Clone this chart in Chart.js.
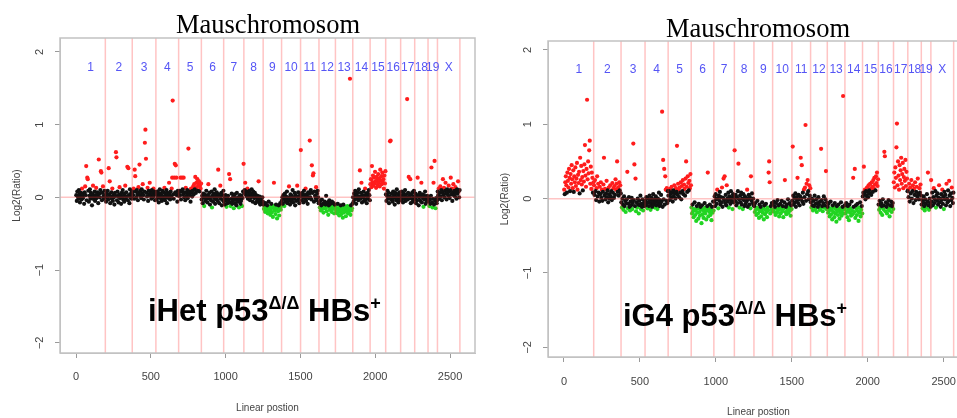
<!DOCTYPE html>
<html>
<head>
<meta charset="utf-8">
<script src="https://cdn.jsdelivr.net/npm/chart.js@4.4.1/dist/chart.umd.min.js"></script>
<style>
  html, body { margin: 0; padding: 0; background: #fff; }
  body { width: 957px; height: 418px; overflow: hidden; position: relative; }
  canvas { position: absolute; top: 0; }
  .ttl { position: absolute; width: 220px; text-align: center; font-family: "Liberation Serif", "Times New Roman", serif; font-size: 26.5px; line-height: 1; color: #000; white-space: nowrap; }
  .lbl { position: absolute; font-family: "Liberation Sans", Arial, sans-serif; font-weight: bold; font-size: 31px; line-height: 1; color: #000; white-space: nowrap; }
  .lbl span { font-size: 18px; position: relative; top: -12px; line-height: 0; }
</style>
</head>
<body>
<canvas id="left" width="478" height="418" style="left:0;width:478px;height:418px"></canvas>
<canvas id="right" width="490" height="418" style="left:488px;width:490px;height:418px"></canvas>
<div class="ttl" style="left:158px;top:11px">Mauschromosom</div>
<div class="ttl" style="left:648px;top:15px">Mauschromosom</div>
<div class="lbl" style="left:148px;top:295px">iHet p53<span>Δ/Δ</span> HBs<span>+</span></div>
<div class="lbl" style="left:623px;top:300px">iG4 p53<span>Δ/Δ</span> HBs<span>+</span></div>
<script>
// ---------------- data ----------------
const chromLabels = ['1','2','3','4','5','6','7','8','9','10','11','12','13','14','15','16','17','18','19','X'];
// chromosome end positions along the linear position axis
const chromEnds = [196,376,534,686,838,987,1122,1251,1374,1501,1624,1734,1850,1966,2070,2170,2264,2353,2416,2566];
const xTicks = [0,500,1000,1500,2000,2500];
const yTicks = [-2,-1,0,1,2];

// log2 ratios, in hundredths, one list per chromosome (left panel: iHet)
const iHetLog2 = [
  [3,-5,8,1,-2,10,4,-7,0,6,-3,12,2,-1,5,-9,7,15,3,43,-4,27,25,9,-6,2,11,-2,6,0,-11,4,16,1,-3,8,-5,3,13,-1,7,2,-8,52,5,0,10,36,34,-4,6,15,1,-2,9,3],
  [2,-6,5,0,9,-3,40,4,22,-8,1,7,-2,12,-5,3,0,-10,6,2,62,55,-4,8,1,-7,4,14,-1,3,-9,6,0,10,-3,2,-6,5,16,-2,7,1,42,-4,40,3,-8,11,0,5,-2,8],
  [7,3,12,-2,38,29,8,0,10,4,-4,14,6,45,2,9,-1,11,5,18,3,-3,8,75,93,53,6,1,13,-5,9,4,20,2,7,-2,10,5,0,12,3,8,-4,6],
  [4,-3,8,0,6,-7,2,11,-1,5,3,-5,9,1,-2,7,13,-4,4,0,10,-8,6,2,-1,20,5,-3,8,1,12,27,133,4,-2,27,46,7,44,27,3,-6,9,2],
  [5,9,2,27,-3,8,27,11,4,27,0,7,-4,13,6,2,10,-1,67,5,8,3,-6,12,7,1,9,15,4,18,11,28,6,20,14,25,9,17,22,8,16,12,19],
  [-3,2,-8,5,0,-12,4,-5,1,9,-2,-7,3,18,-1,6,-10,0,-4,8,-14,2,-6,5,-1,11,-9,3,-3,7,0,-5,38,4,-8,1,16,-2,6,-11,3,-4,9],
  [-6,-1,-10,3,-4,-13,0,-8,2,-3,32,-7,25,-12,-2,5,-9,-5,1,-15,-3,4,-8,-1,-11,6,-4,-6,0,-14,-2,3,-9,-5,2,-12,-1,8,46],
  [6,10,20,4,8,1,12,-2,7,3,9,-4,5,0,11,2,-6,8,4,-1,6,-8,3,0,-5,2,-3,22,-7,1,-10,-4,-2,-9,0,-6],
  [-10,-16,-12,-20,-8,-14,-18,-11,-22,-15,-6,-19,-13,-24,-17,-9,-21,-14,-27,-12,20,-18,-15,-23,-10,-16,-29,-13,-19,-11,-25,-14,-8,-17,-12],
  [-5,0,-9,3,-2,-12,5,-6,1,-3,8,-8,0,-4,15,-1,-10,4,-6,2,-3,10,-7,0,-2,6,-11,3,-5,1,16,-4,7,-1,-8,2,5],
  [65,2,-4,6,0,-7,9,3,-2,12,-5,4,1,-9,7,-1,5,78,0,10,-3,44,6,30,33,-6,8,2,-1,14,-4,5,9,0,-8],
  [-8,-14,-5,-18,-11,-3,-16,-9,-21,-12,-6,-15,-10,2,-19,-13,-7,-24,-11,-4,-17,-9,-14,-20,-6,-12,-16,-8,-22,-10,-13],
  [-12,-18,-15,-22,-9,-20,-16,-25,-13,-19,-11,-23,-17,-14,-28,-10,-21,-16,-19,-13,-26,-15,-18,-12,-22,-17,-20,-14,163,-24,-11,-18,-15,-9],
  [0,-6,5,-3,9,2,-9,4,-1,7,-4,11,1,37,-2,6,20,-7,3,0,8,-5,2,12,-3,5,-8,1,6,-2,10,3,-4],
  [18,25,14,43,21,30,16,27,19,35,22,13,28,24,17,32,20,26,15,38,23,29,18,34,21,25,12,30,19,36],
  [4,-5,2,9,-2,6,-8,1,77,78,-3,5,0,-6,8,-1,3,-10,6,0,-4,11,-2,4,-7,2,7,-3,1],
  [3,-4,8,0,-7,5,1,-2,10,-5,4,0,135,-3,6,28,-1,2,25,-8,4,-2,7,-6,1,9,-3],
  [-2,5,-8,1,-4,27,3,-11,0,6,-5,2,20,-7,4,-1,-13,3,-3,8,-9,0,-5,2,-2],
  [-6,0,-12,-3,-9,2,41,-7,-14,-2,20,-10,50,-5,-15,-1,-8,-4],
  [8,3,12,-2,6,15,1,10,-4,7,25,4,13,0,9,20,5,-3,11,6,2,16,8,-1,10,27,4,12,-5,7,18,3,9,1,14,6,-2,11,5,22,8,0,10]
];

// log2 ratios, in hundredths, one list per chromosome (right panel: iG4)
const iG4Log2 = [
  [12,6,22,30,18,8,35,24,15,40,28,10,33,20,45,26,14,38,9,30,22,42,17,27,48,12,32,21,36,7,55,25,44,19,29,11,37,23,46,72,31,16,40,133,26,50,34,65,78,20,43,13,35,28,8,22],
  [18,5,25,10,-2,14,30,3,20,8,-4,16,6,22,1,12,-3,9,19,55,4,13,-1,7,24,2,11,-5,15,6,0,18,3,10,-2,21,8,14,1,17,5,26,12,20,50,9,15,4,22,11,18,7],
  [-5,-12,0,-8,-15,3,-10,-3,-18,-6,-1,36,-13,-7,2,-11,-16,-4,-9,1,-14,-6,74,-2,46,-10,27,-17,-5,-12,0,-8,-20,-3,-9,4,-14,-7,-11,-1,-16,-6,-10,-4],
  [-3,-9,2,-6,-13,0,-5,-10,4,-2,-15,-7,1,-11,-4,6,-8,-1,-12,-5,3,-9,-3,-14,0,-6,8,-10,-2,-7,5,-4,117,-11,52,-1,40,-8,30,12,-3,14,-6,10],
  [4,10,-2,13,6,1,16,8,-4,11,3,18,7,0,14,9,71,5,20,12,2,15,8,22,-1,17,10,25,6,19,13,4,27,50,16,9,30,21,11,24,14,33,18],
  [-12,-20,-8,-17,-25,-14,-5,-22,-16,-30,-10,-19,-13,-27,-7,-18,-23,-11,-15,-33,-9,-21,-14,-26,-17,-6,-20,-12,-28,-16,-10,35,-24,-13,-18,-8,-22,-15,-29,-11,-19,-4,-16],
  [-4,3,-10,6,-1,-7,12,0,-13,4,-3,9,-8,2,-5,15,-11,1,27,-2,30,-6,5,-9,18,0,-4,8,-12,3,-1,-7,10,-3,2,-14,6,-5,1],
  [65,-3,5,-9,2,-6,10,47,-1,-12,4,-5,8,-8,0,-14,6,-2,-10,3,-7,1,-4,12,-11,-1,5,-8,2,-13,30,-3,7,-6,0,-9],
  [-10,-18,-6,-15,-22,-12,-3,-20,-14,-26,-8,-17,-11,-24,-16,-5,-19,-13,-28,-9,-21,-15,-7,-18,-25,-12,-16,35,50,22,-20,-10,-14,-6,-17],
  [-8,-15,-4,-18,-11,-22,-6,-13,-19,-2,-16,-9,-24,-12,-7,-20,-14,-3,-17,-10,-25,-13,-5,25,-18,-11,-21,-8,-15,-1,-19,-12,-6,-16,-23,-9,-14],
  [-3,70,4,-8,1,-5,7,-11,2,-2,28,-6,5,-1,-9,3,55,0,45,-4,8,-7,12,2,15,99,-3,20,6,25,10,-1,18,4,14],
  [-5,-12,0,-9,-16,-3,-10,4,-14,-7,-1,-18,-6,-11,2,-8,-15,-4,-13,67,-2,-10,-17,-6,3,-12,-9,-1,37,-14,-5],
  [-11,-19,-7,-16,-24,-13,-4,-21,-15,-28,-9,-18,-12,-25,-6,-20,-14,-31,-10,-17,-22,-8,-15,-27,-13,-19,-5,-23,-16,-11,138,-20,-14,-9],
  [-12,-20,-6,-17,-25,-10,-15,-29,-8,-19,-13,-23,-4,-16,-21,28,-11,-18,40,-26,-9,-14,-22,-7,-17,-30,-12,-19,-5,-24,-15,-10,-20],
  [3,8,43,6,12,-1,10,4,15,9,2,18,11,7,20,13,5,22,16,9,25,14,28,19,11,30,21,35,17,26],
  [-8,-15,-3,-12,-19,-6,-10,-22,-1,-14,-9,63,57,-17,-5,-11,-20,-7,-13,-2,-16,-24,-9,-12,-4,-18,-10,-6,-14],
  [22,35,15,42,28,69,101,18,50,31,12,45,25,38,55,20,33,48,14,29,40,24,52,17,36,27,10],
  [12,2,20,-4,15,7,25,0,10,18,-6,13,5,22,-2,9,16,3,27,6,-1,14,8,19,4],
  [-8,-2,-13,-5,3,-10,-16,-1,-7,-12,6,-4,35,-9,-15,0,-6,-11],
  [25,-4,8,-9,2,14,-6,-1,10,-12,4,-3,7,-8,1,18,-5,0,-11,6,-2,12,-7,3,-14,9,-1,5,-9,20,0,-5,11,-3,24,4,-10,7,-2,15,1,-6,8]
];

const GAIN_CUT = 0.12;
const LOSS_CUT = -0.12;

// ---------------- build ----------------
function buildPoints(series) {
  const gain = [], normal = [], loss = [];
  series.forEach((vals, c) => {
    const start = c === 0 ? 0 : chromEnds[c - 1];
    const step = (chromEnds[c] - start) / vals.length;
    vals.forEach((v, i) => {
      const p = { x: start + (i + 0.5) * step, y: v / 100 };
      if (p.y >= GAIN_CUT) gain.push(p);
      else if (p.y <= LOSS_CUT) loss.push(p);
      else normal.push(p);
    });
  });
  return { gain, normal, loss };
}

const decor = {
  id: 'decor',
  afterDatasetsDraw(chart, args, opts) {
    const { ctx, chartArea: a, scales: { x, y } } = chart;
    ctx.save();
    ctx.beginPath();
    ctx.rect(a.left, a.top, a.right - a.left, a.bottom - a.top);
    ctx.clip();
    ctx.strokeStyle = 'rgba(255,60,60,0.30)';
    ctx.lineWidth = 1.5;
    ctx.beginPath();
    chromEnds.forEach(e => {
      const px = x.getPixelForValue(e);
      ctx.moveTo(px, a.top); ctx.lineTo(px, a.bottom);
    });
    const py = y.getPixelForValue(0);
    ctx.moveTo(a.left, py); ctx.lineTo(a.right, py);
    ctx.stroke();
    ctx.fillStyle = 'rgb(85,85,245)';
    ctx.font = '12px "Liberation Sans", Arial, sans-serif';
    ctx.textAlign = 'center';
    ctx.textBaseline = 'middle';
    chromLabels.forEach((l, i) => {
      const s = i ? chromEnds[i - 1] : 0;
      ctx.fillText(l, x.getPixelForValue((s + chromEnds[i]) / 2), y.getPixelForValue(opts.labelY));
    });
    ctx.restore();
    ctx.save();
    ctx.strokeStyle = '#c2c2c2';
    ctx.lineWidth = 1.5;
    ctx.strokeRect(a.left, a.top, a.right - a.left, a.bottom - a.top);
    ctx.restore();
  }
};

function makeChart(id, series, cfg) {
  const pts = buildPoints(series);
  const ds = (data, color) => ({ data, backgroundColor: color, borderWidth: 0, pointRadius: 2.1, pointHoverRadius: 2.1 });
  const axisFont = { family: '"Liberation Sans", Arial, sans-serif', size: 11 };
  return new Chart(document.getElementById(id), {
    type: 'scatter',
    data: { datasets: [ds(pts.normal, '#111111'), ds(pts.gain, '#ff1c1c'), ds(pts.loss, '#22d422')] },
    plugins: [decor],
    options: {
      responsive: false,
      animation: false,
      events: [],
      layout: { padding: { left: 0, top: cfg.top, right: cfg.right, bottom: 0 } },
      plugins: { legend: { display: false }, tooltip: { enabled: false }, decor: { labelY: cfg.labelY } },
      scales: {
        x: {
          type: 'linear', min: cfg.xMin, max: cfg.xMax,
          afterBuildTicks: s => { s.ticks = xTicks.map(v => ({ value: v })); },
          afterFit: s => { s.height = 418 - cfg.bottom; },
          grid: { display: true, drawOnChartArea: false, drawTicks: true, tickLength: 5, color: '#9a9a9a' },
          border: { display: true, color: '#c2c2c2' },
          ticks: { autoSkip: false, maxRotation: 0, minRotation: 0, padding: cfg.xPad, color: '#444', font: axisFont, callback: v => String(v) },
          title: { display: true, text: 'Linear postion', color: '#444', font: { family: '"Liberation Sans", Arial, sans-serif', size: 10 }, padding: { top: 0, bottom: cfg.titlePad } }
        },
        y: {
          type: 'linear', min: cfg.yMin, max: cfg.yMax,
          afterBuildTicks: s => { s.ticks = yTicks.map(v => ({ value: v })); },
          afterFit: s => { s.width = 60; },
          grid: { display: true, drawOnChartArea: false, drawTicks: true, tickLength: 5, color: '#9a9a9a' },
          border: { display: true, color: '#c2c2c2' },
          ticks: {
            minRotation: 90, maxRotation: 90, crossAlign: 'center', padding: 9, color: '#444', font: axisFont,
            callback: v => (v < 0 ? '\u2212' + Math.abs(v) : String(v))
          },
          title: { display: true, text: 'Log2(Ratio)', color: '#444', font: { family: '"Liberation Sans", Arial, sans-serif', size: 10 }, padding: { top: 11, bottom: 0 } }
        }
      }
    }
  });
}

makeChart('left', iHetLog2, { top: 38, bottom: 353, right: 3, xMin: -107, xMax: 2667, yMin: -2.14, yMax: 2.19, labelY: 1.78, xPad: 12, titlePad: 4 });
makeChart('right', iG4Log2, { top: 41, bottom: 357, right: 9, xMin: -105, xMax: 2667, yMin: -2.13, yMax: 2.12, labelY: 1.74, xPad: 13, titlePad: 0 });
</script>
</body>
</html>
